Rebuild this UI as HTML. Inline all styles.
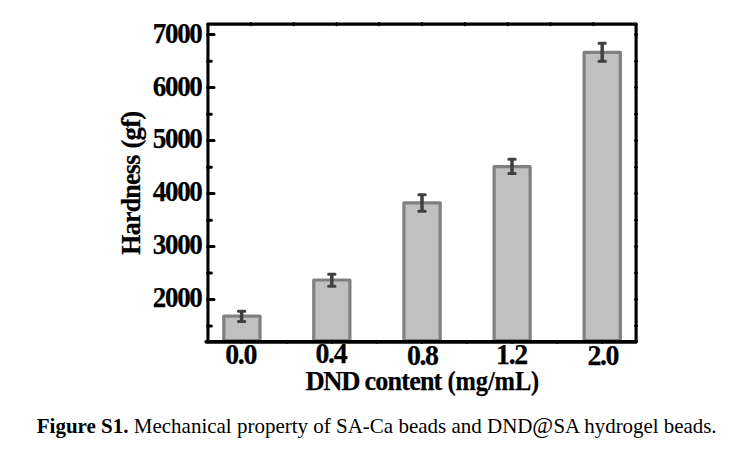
<!DOCTYPE html>
<html><head><meta charset="utf-8">
<style>
html,body{margin:0;padding:0;background:#fff;}
body{width:738px;height:451px;overflow:hidden;position:relative;}
svg{position:absolute;left:0;top:0;}
text{font-family:"Liberation Serif",serif;fill:#000;}
.b{font-weight:bold;font-size:29px;stroke:#000;stroke-width:0.25px;letter-spacing:-1.4px;}
.cap{font-size:21px;}
</style></head>
<body>
<svg width="738" height="451" viewBox="0 0 738 451">
<rect x="0" y="0" width="738" height="451" fill="#fff"/>
<!-- bars -->
<g fill="#c0c0c0" stroke="#808080" stroke-width="3.2" stroke-linejoin="round">
<rect x="223.8" y="316.2" width="36.2" height="24.3"/>
<rect x="313.75" y="280" width="36.15" height="60.5"/>
<rect x="403.9" y="202.85" width="36.25" height="137.65"/>
<rect x="494.1" y="166.6" width="36.05" height="173.9"/>
<rect x="584.1" y="52.45" width="36.2" height="288.05"/>
</g>
<!-- error bars -->
<g stroke="#404040" stroke-width="3" stroke-linecap="round" fill="none">
<path d="M238.4 311.2h6.4M238.4 321.5h6.4"/>
<path d="M328.6 274.35h6.4M328.6 286.3h6.4"/>
<path d="M418.8 194.75h6.4M418.8 211.25h6.4"/>
<path d="M508.8 159.35h6.4M508.8 173.6h6.4"/>
<path d="M599 43.3h6.4M599 61.25h6.4"/>
</g>
<g stroke="#404040" stroke-width="3.5" fill="none">
<path d="M241.6 311.2V321.5M331.8 274.35V286.3M422 194.75V211.25M512 159.35V173.6M602.2 43.3V61.25"/>
</g>
<!-- frame -->
<g stroke="#000" fill="none" stroke-linecap="round">
<path d="M207.95 24.1H636.1" stroke-width="3.25"/>
<path d="M207.95 24.1V341.8" stroke-width="3.1"/>
<path d="M636.1 24.1V341.8" stroke-width="3.15"/>
<path d="M206.1 341.82H636.1" stroke-width="3.65"/>
</g>
<g stroke="#000" stroke-width="2" stroke-linecap="round" fill="none">
<path d="M250.81 22.9v2.4M293.62 22.9v2.4M336.43 22.9v2.4M379.24 22.9v2.4M422.05 22.9v2.4M464.86 22.9v2.4M507.67 22.9v2.4M550.48 22.9v2.4M593.29 22.9v2.4"/>
<path d="M241.60 341.8v1.3M286.68 341.8v1.3M331.75 341.8v1.3M376.83 341.8v1.3M421.90 341.8v1.3M466.98 341.8v1.3M512.05 341.8v1.3M557.12 341.8v1.3M602.20 341.8v1.3"/>
<path d="M634.95 34.60h2.2M634.95 61.34h2.2M634.95 87.57h2.2M634.95 114.27h2.2M634.95 140.54h2.2M634.95 167.20h2.2M634.95 193.51h2.2M634.95 220.13h2.2M634.95 246.48h2.2M634.95 273.06h2.2M634.95 299.45h2.2M634.95 325.99h2.2"/>
</g>
<!-- left ticks -->
<g stroke="#000" stroke-width="3" stroke-linecap="round">
<path d="M207.6 34.60H214.05M207.6 87.57H214.05M207.6 140.54H214.05M207.6 193.51H214.05M207.6 246.48H214.05M207.6 299.45H214.05"/>
<path d="M207.6 61.34H211.35M207.6 114.27H211.35M207.6 167.20H211.35M207.6 220.13H211.35M207.6 273.06H211.35M207.6 325.99H211.35"/>
</g>
<!-- y labels -->
<g class="b" text-anchor="end">
<text x="201.6" y="42.55" textLength="48.9" lengthAdjust="spacingAndGlyphs">7000</text>
<text x="201.6" y="95.52" textLength="48.9" lengthAdjust="spacingAndGlyphs">6000</text>
<text x="201.6" y="148.49" textLength="48.9" lengthAdjust="spacingAndGlyphs">5000</text>
<text x="201.6" y="201.46" textLength="48.9" lengthAdjust="spacingAndGlyphs">4000</text>
<text x="201.6" y="254.43" textLength="48.9" lengthAdjust="spacingAndGlyphs">3000</text>
<text x="201.6" y="307.4" textLength="48.9" lengthAdjust="spacingAndGlyphs">2000</text>
</g>
<!-- x labels -->
<g class="b" text-anchor="middle">
<text x="240.6" y="364.3" textLength="30.8" lengthAdjust="spacingAndGlyphs">0.0</text>
<text x="330.9" y="363.4" textLength="30.8" lengthAdjust="spacingAndGlyphs">0.4</text>
<text x="422.3" y="365.1" textLength="30.8" lengthAdjust="spacingAndGlyphs">0.8</text>
<text x="511.5" y="364.1" textLength="30.8" lengthAdjust="spacingAndGlyphs">1.2</text>
<text x="602.8" y="364.9" textLength="30.8" lengthAdjust="spacingAndGlyphs">2.0</text>
</g>
<g class="b" style="font-size:28.3px">
<text x="305.4" y="389.65" textLength="53.7" lengthAdjust="spacingAndGlyphs">DND</text>
<text style="letter-spacing:-0.9px" x="364.6" y="389.65" textLength="76.9" lengthAdjust="spacingAndGlyphs">content</text>
<text style="letter-spacing:-0.1px" x="447.4" y="389.65" textLength="91.8" lengthAdjust="spacingAndGlyphs">(mg/mL)</text>
</g>
<g class="b" style="font-size:28.3px;letter-spacing:-0.8px" transform="translate(140.1,0) rotate(-90)">
<text x="-254.7" y="0" textLength="99.2" lengthAdjust="spacingAndGlyphs">Hardness</text>
<text x="-148.6" y="0" textLength="37" lengthAdjust="spacingAndGlyphs">(gf)</text>
</g>
<text class="cap" x="36.8" y="432.5" textLength="495.7" lengthAdjust="spacingAndGlyphs"><tspan font-weight="bold">Figure S1.</tspan> Mechanical property of SA-Ca beads and DND</text>
<text class="cap" style="font-size:23.5px" x="532.2" y="433.2" textLength="20.8" lengthAdjust="spacingAndGlyphs">@</text>
<text class="cap" x="553.5" y="432.5" textLength="163.1" lengthAdjust="spacingAndGlyphs">SA hydrogel beads.</text>
</svg>
</body></html>
